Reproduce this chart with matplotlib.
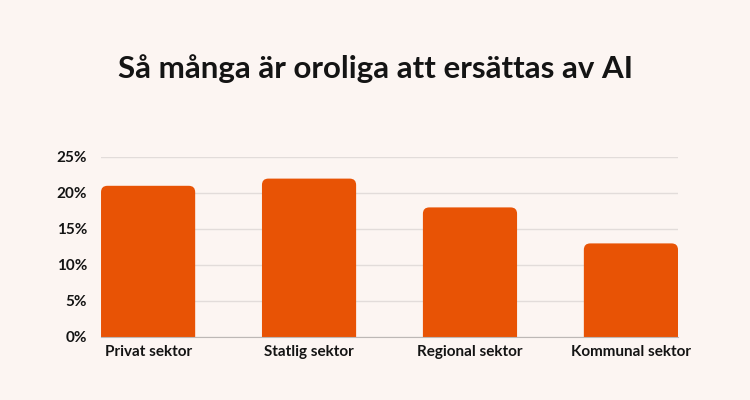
import matplotlib.pyplot as plt
from matplotlib.patches import FancyBboxPatch

# data
sectors = ["Privat sektor", "Statlig sektor", "Regional sektor", "Kommunal sektor"]
share = [21, 22, 18, 13]  # percent worried about being replaced by AI
yticks = [0, 5, 10, 15, 20, 25]

bg = "#FCF5F2"
bar_col = "#E85305"
txt = "#141414"

plt.rcParams['font.family'] = ['Lato', 'DejaVu Sans']

fig = plt.figure(figsize=(7.5, 4), dpi=100, facecolor=bg)
ax = fig.add_axes([0.1347, 0.1575, 0.904 - 0.1347, 0.6075 - 0.1575], facecolor=bg)

xpos = list(range(len(sectors)))
width = 0.585
bars = ax.bar(xpos, share, width=width, color=bar_col)

# swap the plain bars for ones with rounded top corners
for rect in bars:
    rect.set_visible(False)
    x0, w, h = rect.get_x(), rect.get_width(), rect.get_height()
    p = FancyBboxPatch((x0, -2), w, h + 2,
                       boxstyle="round,pad=0,rounding_size=0.04",
                       mutation_aspect=22, facecolor=bar_col, edgecolor="none",
                       zorder=3)
    ax.add_patch(p)

ax.set_xlim(-width / 2, len(sectors) - 1 + width / 2)
ax.set_ylim(0, 25)
ax.set_yticks(yticks)
ax.set_yticklabels([f"{v}%" for v in yticks])
ax.set_xticks(xpos)
ax.set_xticklabels(sectors)

ax.grid(axis="y", color="#E2DCDA", linewidth=1, zorder=0)
ax.set_axisbelow(True)
for s in ["top", "right", "left"]:
    ax.spines[s].set_visible(False)
ax.spines["bottom"].set_color("#BDB8B6")
ax.spines["bottom"].set_zorder(4)
ax.tick_params(length=0, labelsize=11, colors=txt)
ax.tick_params(axis="y", pad=10)
ax.tick_params(axis="x", pad=6)
for lab in ax.get_xticklabels() + ax.get_yticklabels():
    lab.set_fontweight("bold")

fig.text(0.5, 0.805, "Så många är oroliga att ersättas av AI", ha="center",
         fontsize=22.5, fontweight="bold", color=txt)

fig.savefig("out.png", dpi=100, facecolor=bg)
